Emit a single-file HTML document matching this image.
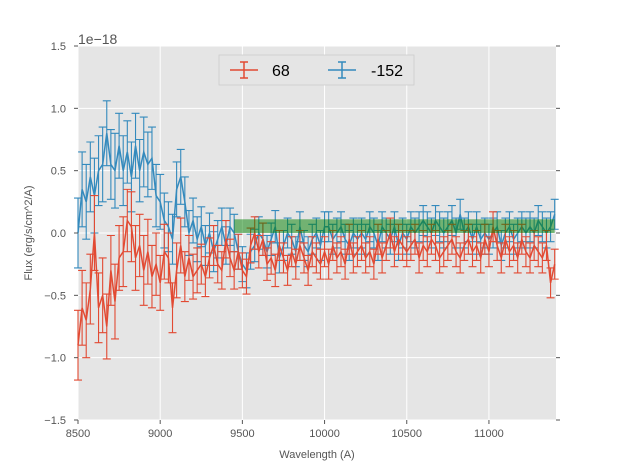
<!DOCTYPE html>
<html><head><meta charset="utf-8"><style>
body{margin:0;background:#fff;}
svg text{font-family:"Liberation Sans","DejaVu Sans",sans-serif;}
</style></head><body>
<svg id="chart" width="617" height="467" xmlns="http://www.w3.org/2000/svg">
<rect x="78" y="46" width="478" height="374" fill="#e5e5e5"/>
<g id="grid"></g>
<g id="series"></g>
<rect id="band" fill="#008000" opacity="0.5"/>
<g id="axes"></g>
<text x="78" y="44" font-size="14" fill="#555">1e−18</text>
<text x="317" y="458" font-size="11" fill="#555" text-anchor="middle">Wavelength (A)</text>
<text x="0" y="0" font-size="11" fill="#555" text-anchor="middle" transform="translate(32,233) rotate(-90)">Flux (erg/s/cm^2/A)</text>
<g>
<rect x="219" y="55" width="195" height="30" fill="#e5e5e5" stroke="#ccc" stroke-width="0.8"/>
<g stroke="#E24A33" stroke-width="1.5">
<line x1="230" y1="70" x2="258" y2="70"/><line x1="244" y1="62" x2="244" y2="78"/><line x1="240" y1="62" x2="248" y2="62"/><line x1="240" y1="78" x2="248" y2="78"/></g>
<text x="272" y="76" font-size="16" fill="#000">68</text>
<g stroke="#348ABD" stroke-width="1.5">
<line x1="328" y1="70" x2="356" y2="70"/><line x1="342" y1="62" x2="342" y2="78"/><line x1="338" y1="62" x2="346" y2="62"/><line x1="338" y1="78" x2="346" y2="78"/></g>
<text x="371" y="76" font-size="16" fill="#000">-152</text>
</g>
</svg>
<script>
const wlStart = 8500, wlStep = 25;
const xTicks = [8500, 9000, 9500, 10000, 10500, 11000];
const yTicks = [-1.5, -1.0, -0.5, 0.0, 0.5, 1.0, 1.5];
const yTickLabels = ["−1.5","−1.0","−0.5","0.0","0.5","1.0","1.5"];
const bandRange = [9450, 11400, 0.0, 0.11];
const blueFlux = [0.0,0.35,0.25,0.45,0.3,0.5,0.55,0.8,0.55,0.5,
0.7,0.5,0.65,0.45,0.7,0.5,0.65,0.55,0.6,0.3,
0.25,0.1,0.05,-0.05,0.35,0.45,0.25,0.0,0.1,-0.05,
0.05,-0.1,0.0,-0.15,-0.05,0.05,-0.1,0.05,0.0,-0.15,
-0.25,-0.3,-0.15,-0.1,0.0,-0.05,-0.15,-0.05,0.05,-0.2,
-0.1,0.0,-0.05,-0.15,0.05,-0.1,-0.15,-0.05,0.0,-0.1,
0.05,0.05,-0.05,0.0,0.05,-0.05,-0.1,0.0,-0.05,0.0,
-0.05,0.05,0.0,-0.1,0.05,0.0,-0.05,0.05,-0.1,0.0,
-0.05,0.05,0.0,0.05,0.1,0.05,0.0,0.1,0.05,0.0,
0.05,0.1,0.0,0.15,0.0,0.05,-0.05,0.05,-0.05,0.0,
-0.05,0.0,0.05,-0.1,0.0,0.05,-0.05,0.0,0.05,0.0,
0.05,0.0,0.1,0.05,0.0,0.05,0.15];
const blueErr = [0.28,0.3,0.3,0.28,0.3,0.28,0.3,0.26,0.28,0.3,
0.26,0.28,0.25,0.28,0.26,0.25,0.28,0.26,0.25,0.25,
0.22,0.22,0.2,0.2,0.22,0.22,0.2,0.18,0.18,0.18,
0.16,0.16,0.16,0.16,0.15,0.15,0.15,0.15,0.15,0.14,
0.14,0.14,0.14,0.13,0.13,0.13,0.13,0.13,0.13,0.12,
0.12,0.12,0.12,0.12,0.12,0.12,0.12,0.12,0.12,0.12,
0.12,0.12,0.12,0.12,0.12,0.12,0.12,0.12,0.12,0.12,
0.12,0.12,0.12,0.12,0.12,0.12,0.12,0.12,0.12,0.12,
0.12,0.12,0.12,0.12,0.12,0.12,0.12,0.12,0.12,0.12,
0.12,0.12,0.12,0.12,0.12,0.12,0.12,0.12,0.12,0.12,
0.12,0.12,0.12,0.12,0.12,0.12,0.12,0.12,0.12,0.12,
0.12,0.12,0.12,0.12,0.12,0.12,0.12];
const redFlux = [-0.9,-0.6,-0.7,-0.45,0.0,-0.6,-0.5,-0.75,-0.3,-0.55,
-0.2,-0.15,0.1,0.05,-0.2,-0.1,-0.3,-0.15,-0.35,-0.25,
-0.4,-0.15,-0.2,-0.6,-0.3,-0.1,-0.35,-0.2,-0.35,-0.3,
-0.25,-0.35,-0.2,-0.1,-0.25,-0.3,-0.05,-0.2,-0.3,-0.15,
-0.3,-0.35,-0.1,0.0,-0.15,-0.05,-0.25,-0.2,-0.3,-0.1,
-0.2,-0.3,-0.15,-0.25,-0.1,-0.2,-0.3,-0.15,-0.2,-0.25,
-0.15,-0.25,-0.1,-0.2,-0.15,-0.25,-0.05,-0.2,-0.15,-0.1,
-0.2,-0.15,-0.25,-0.05,-0.2,-0.1,0.0,-0.15,-0.05,-0.1,
-0.15,-0.1,-0.05,-0.2,-0.1,-0.15,-0.05,-0.1,-0.2,-0.15,
-0.1,-0.05,-0.15,-0.2,-0.1,-0.05,-0.15,-0.1,-0.2,-0.05,
-0.15,0.05,-0.1,-0.2,-0.05,-0.15,-0.1,-0.2,-0.05,-0.15,
-0.2,-0.1,-0.15,-0.2,-0.1,-0.4,-0.25];
const redErr = [0.28,0.3,0.3,0.28,0.3,0.28,0.3,0.26,0.28,0.3,
0.26,0.28,0.25,0.28,0.26,0.25,0.28,0.26,0.25,0.25,
0.22,0.22,0.2,0.2,0.22,0.22,0.2,0.18,0.18,0.18,
0.16,0.16,0.16,0.16,0.15,0.15,0.15,0.15,0.15,0.14,
0.14,0.14,0.14,0.13,0.13,0.13,0.13,0.13,0.13,0.12,
0.12,0.12,0.12,0.12,0.12,0.12,0.12,0.12,0.12,0.12,
0.12,0.12,0.12,0.12,0.12,0.12,0.12,0.12,0.12,0.12,
0.12,0.12,0.12,0.12,0.12,0.12,0.12,0.12,0.12,0.12,
0.12,0.12,0.12,0.12,0.12,0.12,0.12,0.12,0.12,0.12,
0.12,0.12,0.12,0.12,0.12,0.12,0.12,0.12,0.12,0.12,
0.12,0.12,0.12,0.12,0.12,0.12,0.12,0.12,0.12,0.12,
0.12,0.12,0.12,0.12,0.12,0.12,0.12];

const NS = "http://www.w3.org/2000/svg";
const X0 = 78, X1 = 556, Y0 = 46, Y1 = 420;
const xMin = 8500, xMax = 11408, yMin = -1.5, yMax = 1.5;
const xs = v => X0 + (v - xMin) / (xMax - xMin) * (X1 - X0);
const ys = v => Y1 - (v - yMin) / (yMax - yMin) * (Y1 - Y0);
function mk(tag, attrs, parent) {
  const e = document.createElementNS(NS, tag);
  for (const k in attrs) e.setAttribute(k, attrs[k]);
  parent.appendChild(e);
  return e;
}
const grid = document.getElementById('grid');
const axes = document.getElementById('axes');
xTicks.forEach(t => {
  const g = mk('line', {x1: xs(t), x2: xs(t), y1: Y0, y2: Y1, stroke: '#fff', 'stroke-width': 1}, grid);
  
  
  const tk = mk('line', {x1: xs(t), x2: xs(t), y1: Y1, y2: Y1 + 4, stroke: '#555'}, axes);
  
  
  const lb = mk('text', {x: xs(t), y: Y1 + 17, 'font-size': 11, fill: '#555', 'text-anchor': 'middle'}, axes);
  lb.textContent = t;
  
  
});
yTicks.forEach((t, i) => {
  const g = mk('line', {x1: X0, x2: X1, y1: ys(t), y2: ys(t), stroke: '#fff', 'stroke-width': 1}, grid);
  
  
  const tk = mk('line', {x1: X0 - 4, x2: X0, y1: ys(t), y2: ys(t), stroke: '#555'}, axes);
  
  
  const tk2 = mk('line', {x1: X1, x2: X1 + 4, y1: ys(t), y2: ys(t), stroke: '#555'}, axes);
  
  
  const lb = mk('text', {x: X0 - 12, y: ys(t) + 4, 'font-size': 11, fill: '#555', 'text-anchor': 'end'}, axes);
  lb.textContent = yTickLabels[i];
  
  
});
const series = document.getElementById('series');
function drawSeries(flux, err, color, name) {
  const g = mk('g', {stroke: color, 'stroke-width': 1.3, fill: 'none'}, series);
  
  
  let d = '';
  flux.forEach((v, i) => {
    const x = xs(wlStart + i * wlStep);
    if (x > X1 + 0.5) return;
    const yt = ys(v + err[i]), yb = ys(v - err[i]);
    const eb = mk('path', {d: `M${x},${yt}V${yb}M${x-4},${yt}H${x+4}M${x-4},${yb}H${x+4}`, 'stroke-width': 1.1}, g);
    
    
    d += (d ? 'L' : 'M') + x + ',' + ys(v);
  });
  const ln = mk('path', {d: d, 'stroke-width': 1.5}, g);
  
  
}
drawSeries(blueFlux, blueErr, '#348ABD', 'series-152');
drawSeries(redFlux, redErr, '#E24A33', 'series-68');
const band = document.getElementById('band');
band.setAttribute('x', xs(bandRange[0]));
band.setAttribute('width', Math.min(xs(bandRange[1]), X1) - xs(bandRange[0]));
band.setAttribute('y', ys(bandRange[3]));
band.setAttribute('height', ys(bandRange[2]) - ys(bandRange[3]));
</script>
</body></html>
